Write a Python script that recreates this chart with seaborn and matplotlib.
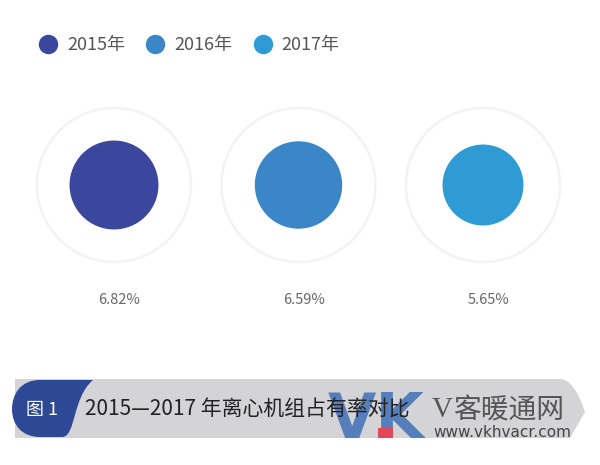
import matplotlib
matplotlib.use('Agg')
import matplotlib.pyplot as plt
import seaborn as sns
import pandas as pd
from matplotlib.lines import Line2D
from matplotlib.path import Path
from matplotlib.patches import PathPatch, Rectangle

sns.set_style('white')
plt.rcParams['font.family'] = ['Noto Sans CJK SC', 'DejaVu Sans']

# 数据
years = ['2015年', '2016年', '2017年']
shares = [6.82, 6.59, 5.65]
labels = ['6.82%', '6.59%', '5.65%']
colors = ['#3b479c', '#3a86c6', '#2f9bd5']
title = '2015—2017 年离心机组占有率对比'

df = pd.DataFrame({'year': years, 'share': shares, 'pos': [0, 1, 2], 'row': [0, 0, 0]})

fig = plt.figure(figsize=(6, 4.65), dpi=100)
ax = fig.add_axes([0, 0, 1, 1])

# 外圈（淡灰色圆环）
ax.scatter(df['pos'], df['row'], s=12300, facecolors='none',
           edgecolors='#f3f3f3', linewidths=1.8, zorder=1)

# 面积与占有率成正比的圆
sns.scatterplot(data=df, x='pos', y='row', hue='year', palette=colors,
                size='share', sizes=(0, 4100), size_norm=(0, max(shares)),
                edgecolor='none', legend=False, ax=ax, zorder=2)

for i, lab in enumerate(labels):
    ax.text(i + 0.03, -1.15, lab, ha='center', va='center',
            fontsize=10.5, color='#666666')

ax.set_xlim(-114 / 184.5, (600 - 114) / 184.5)
ax.set_ylim(-(465 - 185) / 100, 185 / 100)
ax.axis('off')

# 图例
handles = [Line2D([], [], marker='o', linestyle='none', markersize=14,
                  markerfacecolor=c, markeredgecolor='none') for c in colors]
leg = ax.legend(handles, years, loc='center left', bbox_to_anchor=(0.05, 1 - 45 / 465),
                ncol=3, frameon=False, fontsize=13, handletextpad=0.45,
                columnspacing=1.08, handlelength=1.2, borderaxespad=0)
for t in leg.get_texts():
    t.set_color('#555555')

# 底部标题栏
ax2 = fig.add_axes([0, 0, 1, 1], facecolor='none')
ax2.set_xlim(0, 600)
ax2.set_ylim(465, 0)
ax2.axis('off')

bar = Path([(15, 379), (560, 379), (574, 379), (585, 412), (570, 438), (15, 438), (15, 379)],
           [Path.MOVETO, Path.LINETO, Path.CURVE3, Path.CURVE3, Path.LINETO, Path.LINETO, Path.CLOSEPOLY])
ax2.add_patch(PathPatch(bar, facecolor='#d4d4d6', edgecolor='none'))

cap = Path([(93, 380), (40, 380),
            (20, 380), (12, 395), (12, 409),
            (12, 425), (22, 437), (40, 437),
            (62, 437),
            (76, 437), (72, 398), (93, 380),
            (93, 380)],
           [Path.MOVETO, Path.LINETO,
            Path.CURVE4, Path.CURVE4, Path.CURVE4,
            Path.CURVE4, Path.CURVE4, Path.CURVE4,
            Path.LINETO,
            Path.CURVE4, Path.CURVE4, Path.CURVE4,
            Path.CLOSEPOLY])
ax2.add_patch(PathPatch(cap, facecolor='#2d4894', edgecolor='none'))

ax2.text(42, 410, '图 1', ha='center', va='center', fontsize=13, color='white')

# 水印
ax2.text(328, 438, 'VK', ha='left', va='baseline', fontsize=45, fontweight='bold',
         color='#3f6fb6', alpha=0.85, family=['DejaVu Sans'], zorder=3)
ax2.add_patch(Rectangle((378, 428), 15, 10, facecolor='#e0485a', edgecolor='none', zorder=3))
ax2.text(432, 410, 'V', ha='left', va='center', fontsize=21, color='#555555',
         family=['Liberation Serif'])
ax2.text(453, 410, '客暖通网', ha='left', va='center', fontsize=20, color='#555555')
ax2.text(433, 432, 'www.vkhvacr.com', ha='left', va='center', fontsize=11, color='#444444',
         family=['DejaVu Sans'])

ax2.text(85, 410, title, ha='left', va='center', fontsize=15, color='#222222', zorder=4)

fig.savefig('out.png', dpi=100)
